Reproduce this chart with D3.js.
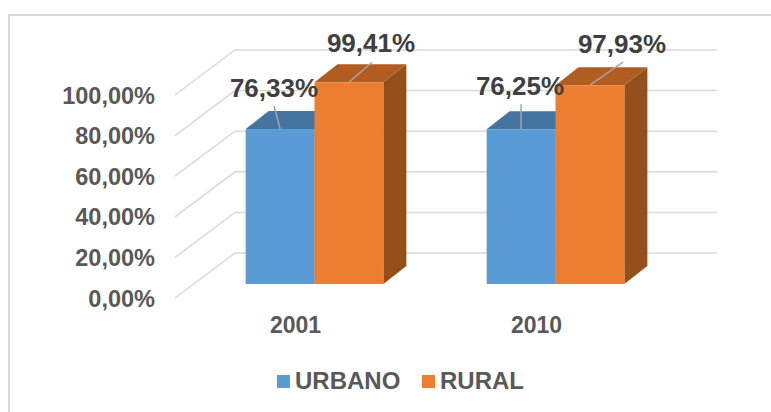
<!DOCTYPE html>
<html>
<head>
<meta charset="utf-8">
<script src="https://cdn.jsdelivr.net/npm/d3@7"></script>
<style>
  html, body { margin: 0; padding: 0; background: #fff; }
  text { font-family: "Liberation Sans", Arial, sans-serif; font-weight: bold; }
</style>
</head>
<body>
<div id="chart"></div>
<script>
// values
const years = ["2001", "2010"];
const seriesNames = ["URBANO", "RURAL"];
const urbano = [76.33, 76.25];
const rural = [99.41, 97.93];
const yTicks = [0, 20, 40, 60, 80, 100];

const width = 771, height = 412;
const colors = {
  URBANO: { front: "#5b9bd5", top: "#44749f", side: "#44749f" },
  RURAL: { front: "#ed7d31", top: "#b15d22", side: "#94501c" },
};
const fmt = (v) => v.toFixed(2).replace(".", ",") + "%";

const svg = d3.select("#chart").append("svg")
  .attr("width", width).attr("height", height)
  .style("display", "block");

// outer frame of the chart, right and bottom edges are cropped off
svg.append("rect")
  .attr("x", 9).attr("y", 15)
  .attr("width", 800).attr("height", 500)
  .attr("fill", "none").attr("stroke", "#d9d9d9").attr("stroke-width", 2);

// floor depth of the fake 3d box
const wallDx = 60, wallDy = 45;
const axisX = 175;
const y = d3.scaleLinear().domain([0, 100]).range([298, 95]);

// Gridlines: diagonal on the side wall, then flat on the back wall
const grid = svg.append("g");
grid.selectAll("path").data(yTicks).join("path")
  .attr("d", (d) => d3.line()([
    [axisX, y(d)],
    [axisX + wallDx, y(d) - wallDy],
    [717, y(d) - wallDy],
  ]))
  .attr("fill", "none").attr("stroke", "#d9d9d9").attr("stroke-width", 1.5);

// y tick labels
svg.append("g").selectAll("text").data(yTicks).join("text")
  .attr("x", 155).attr("y", (d) => y(d) + 8.5)
  .attr("text-anchor", "end")
  .attr("font-size", 23.5).attr("fill", "#595959")
  .text(fmt);

// bars sit a bit in front of the back wall
const barDx = 19, barDy = 14, depthX = 23, depthY = 18;
const x0 = d3.scaleBand().domain(years).range([axisX + barDx, 717 - wallDx + barDx]);
const x1 = d3.scaleBand().domain(seriesNames).range([0, x0.bandwidth()])
  .paddingInner(0).paddingOuter(0.75);
const barY = (v) => y(v) - barDy;

const rows = [];
years.forEach((yr, i) => {
  rows.push({ year: yr, name: "URBANO", value: urbano[i] });
  rows.push({ year: yr, name: "RURAL", value: rural[i] });
});

const bars = svg.append("g").selectAll("g").data(rows).join("g")
  .attr("transform", (d) => `translate(${x0(d.year) + x1(d.name)},0)`);

const bw = x1.bandwidth();
bars.append("path") // top face
  .attr("d", (d) => d3.line()([
    [0, barY(d.value)], [depthX, barY(d.value) - depthY],
    [bw + depthX, barY(d.value) - depthY], [bw, barY(d.value)],
  ]) + "Z")
  .attr("fill", (d) => colors[d.name].top);
bars.append("path") // side face
  .attr("d", (d) => d3.line()([
    [bw, barY(d.value)], [bw + depthX, barY(d.value) - depthY],
    [bw + depthX, barY(0) - depthY], [bw, barY(0)],
  ]) + "Z")
  .attr("fill", (d) => colors[d.name].side);
bars.append("rect") // front face
  .attr("x", 0).attr("y", (d) => barY(d.value))
  .attr("width", bw).attr("height", (d) => barY(0) - barY(d.value))
  .attr("fill", (d) => colors[d.name].front);

// data labels with leader lines, moved by hand like in the original
const labelNudge = [
  { tx: 274, ty: 97, x2: -6, y2: -23 },
  { tx: 371, ty: 52, x2: 23, y2: -20 },
  { tx: 520, ty: 95, x2: 0, y2: -25 },
  { tx: 622, ty: 53, x2: 33, y2: -23 },
];
const labels = svg.append("g");
rows.forEach((d, i) => {
  const n = labelNudge[i];
  const cx = x0(d.year) + x1(d.name) + bw / 2;
  labels.append("line")
    .attr("x1", cx).attr("y1", barY(d.value))
    .attr("x2", cx + n.x2).attr("y2", barY(d.value) + n.y2)
    .attr("stroke", "#a6a6a6").attr("stroke-width", 1.5);
  labels.append("text")
    .attr("x", n.tx).attr("y", n.ty)
    .attr("text-anchor", "middle")
    .attr("font-size", 26).attr("fill", "#404040")
    .text(fmt(d.value));
});

// category labels sit on the front edge of the floor
svg.append("g").selectAll("text").data(years).join("text")
  .attr("x", (d) => x0(d) + x0.bandwidth() / 2 - barDx)
  .attr("y", 333)
  .attr("text-anchor", "middle")
  .attr("font-size", 23).attr("fill", "#595959")
  .text((d) => d);

// legend
const legendX = d3.scaleOrdinal().domain(seriesNames).range([277, 422]);
const legend = svg.append("g").selectAll("g").data(seriesNames).join("g")
  .attr("transform", (d) => `translate(${legendX(d)},375)`);
legend.append("rect")
  .attr("width", 13).attr("height", 13)
  .attr("fill", (d) => colors[d].front);
legend.append("text")
  .attr("x", 18).attr("y", 13.5)
  .attr("font-size", 24).attr("fill", "#595959")
  .text((d) => d);
</script>
</body>
</html>
